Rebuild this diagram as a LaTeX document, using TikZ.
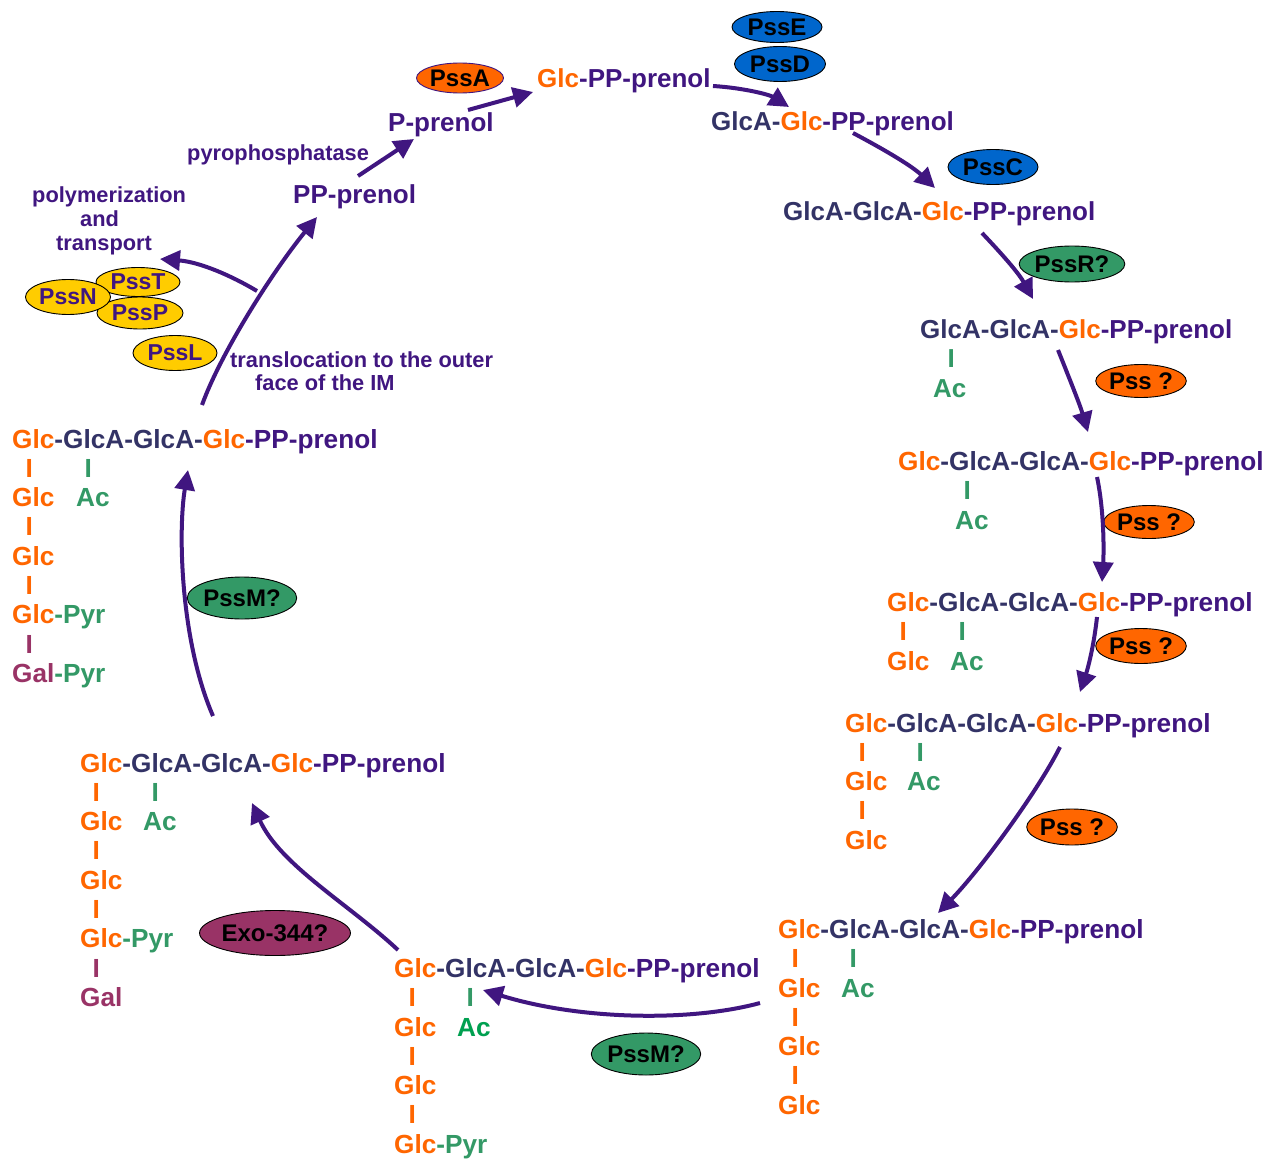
\documentclass[tikz,border=0pt]{standalone}
\usepackage{fontspec}
\setmainfont{Liberation Sans}
\usetikzlibrary{arrows.meta,shapes.geometric}
\definecolor{orng}{RGB}{255,102,0}
\definecolor{navy}{RGB}{51,51,102}
\definecolor{purp}{RGB}{64,22,128}
\definecolor{grn}{RGB}{51,153,102}
\definecolor{brgrn}{RGB}{0,160,80}
\definecolor{mag}{RGB}{153,51,102}
\definecolor{eblue}{RGB}{0,102,204}
\definecolor{eyel}{RGB}{255,204,0}
\newcommand\cOr[1]{\textcolor{orng}{#1}}
\newcommand\cNv[1]{\textcolor{navy}{#1}}
\newcommand\cGr[1]{\textcolor{grn}{#1}}
\newcommand\cMg[1]{\textcolor{mag}{#1}}
\tikzset{
  tA/.style={anchor=base west, inner sep=0pt, font=\fontsize{26}{30}\selectfont\bfseries, text=purp},
  tB/.style={anchor=base west, inner sep=0pt, font=\fontsize{26.2}{30}\selectfont\bfseries, text=purp},
  tC/.style={anchor=base west, inner sep=0pt, font=\fontsize{21.8}{24}\selectfont\bfseries, text=purp},
  ell/.style={ellipse, draw=black, line width=0.9pt, inner sep=0pt, font=\fontsize{24}{28}\selectfont\bfseries},
  yel/.style={ell, fill=eyel, text=purp, font=\fontsize{23}{27}\selectfont\bfseries},
  arr/.style={draw=purp, line width=4pt, -{Triangle[length=20pt,width=20pt]}}
}
\begin{document}
\begin{tikzpicture}[x=1pt,y=-1pt]
\useasboundingbox[fill=white] (0,0) rectangle (1276,1161);

% ---------- enzymes ----------
\node[ell, fill=orng, draw=purp, minimum width=87, minimum height=30] (pssa) at (460,78) {PssA};
\node[ell, fill=eblue, minimum width=90, minimum height=31] (psse) at (777,27) {PssE};
\node[ell, fill=eblue, minimum width=91, minimum height=35] (pssd) at (780,64) {PssD};
\node[ell, fill=eblue, minimum width=90, minimum height=35] (pssc) at (993,167) {PssC};
\node[ell, fill=grn, minimum width=95, minimum height=36] (pssr) at (1072,264) {PssR?};
\node[ell, fill=orng, minimum width=89, minimum height=33] (pss1) at (1141,381) {Pss ?};
\node[ell, fill=orng, minimum width=86, minimum height=33] (pss2) at (1149,522) {Pss ?};
\node[ell, fill=orng, minimum width=88, minimum height=35] (pss3) at (1141,646) {Pss ?};
\node[ell, fill=orng, minimum width=89, minimum height=36] (pss4) at (1072,827) {Pss ?};
\node[ell, fill=grn, minimum width=103, minimum height=42] (pssm1) at (242,598) {PssM?};
\node[ell, fill=grn, minimum width=106, minimum height=42] (pssm2) at (646,1054) {PssM?};
\node[ell, fill=mag, minimum width=126, minimum height=45] (exo) at (275,933) {Exo-344?};
\node[yel, minimum width=84, minimum height=29] (psst) at (138,282) {PssT};
\node[yel, minimum width=86, minimum height=32] (pssp) at (140,313) {PssP};
\node[yel, minimum width=85, minimum height=35] (pssn) at (68,297) {PssN};
\node[yel, minimum width=84, minimum height=35] (pssl) at (175,353) {PssL};

% ---------- top intermediates ----------
\node[tA] (glcpp) at (537,88) {\cOr{Glc}-PP-prenol};
\node[tA] (pprenol) at (388,131.5) {P-prenol};
\node[tA] (s1) at (711,130.5) {\cNv{GlcA-}\cOr{Glc}-PP-prenol};
\node[tA] (ppprenol) at (293,204) {PP-prenol};
\node[tA] (s1b) at (783,220) {\cNv{GlcA-GlcA-}\cOr{Glc}-PP-prenol};

\node[tA] (s2) at (920,338) {\cNv{GlcA-GlcA-}\cOr{Glc}-PP-prenol};
\node[tA,text=grn] (s2b) at (947.5,367.5) {I};
\node[tA,text=grn] (s2ac) at (933,397.5) {Ac};

% ---------- S3 ----------
\node[tB] (s3) at (898,470) {\cOr{Glc}\cNv{-GlcA-GlcA-}\cOr{Glc}-PP-prenol};
\node[tB,text=grn] (s3b) at (963.4,499.5) {I};
\node[tB,text=grn] (s3ac) at (955,529) {Ac};

% ---------- S4 ----------
\node[tB] (s4) at (887,611) {\cOr{Glc}\cNv{-GlcA-GlcA-}\cOr{Glc}-PP-prenol};
\node[tB,text=orng] (s4b) at (899.4,640.5) {I};
\node[tB,text=grn] (s4c) at (958.4,640.5) {I};
\node[tB,text=orng] (s4g) at (887,670) {Glc};
\node[tB,text=grn] (s4ac) at (950,670) {Ac};

% ---------- S5 ----------
\node[tB] (s5) at (845,732) {\cOr{Glc}\cNv{-GlcA-GlcA-}\cOr{Glc}-PP-prenol};
\node[tB,text=orng] (s5b) at (858.4,761) {I};
\node[tB,text=grn] (s5c) at (916.4,761) {I};
\node[tB,text=orng] (s5g) at (845,790.5) {Glc};
\node[tB,text=grn] (s5ac) at (907,790.5) {Ac};
\node[tB,text=orng] (s5d) at (858.4,819.5) {I};
\node[tB,text=orng] (s5g2) at (845,849) {Glc};

% ---------- S6 ----------
\node[tB] (s6) at (778,938.5) {\cOr{Glc}\cNv{-GlcA-GlcA-}\cOr{Glc}-PP-prenol};
\node[tB,text=orng] (s6b) at (791.4,967.5) {I};
\node[tB,text=grn] (s6c) at (849.4,967.5) {I};
\node[tB,text=orng] (s6g) at (778,997) {Glc};
\node[tB,text=grn] (s6ac) at (841,997) {Ac};
\node[tB,text=orng] (s6d) at (791.4,1026) {I};
\node[tB,text=orng] (s6g2) at (778,1055.5) {Glc};
\node[tB,text=orng] (s6e) at (791.4,1084.5) {I};
\node[tB,text=orng] (s6g3) at (778,1114) {Glc};

% ---------- S7 ----------
\node[tB] (s7) at (394,977) {\cOr{Glc}\cNv{-GlcA-GlcA-}\cOr{Glc}-PP-prenol};
\node[tB,text=orng] (s7b) at (408.4,1006.5) {I};
\node[tB,text=grn] (s7c) at (466.4,1006.5) {I};
\node[tB,text=orng] (s7g) at (394,1036) {Glc};
\node[tB,text=brgrn] (s7ac) at (457,1036) {Ac};
\node[tB,text=orng] (s7d) at (408.4,1065) {I};
\node[tB,text=orng] (s7g2) at (394,1094.5) {Glc};
\node[tB,text=orng] (s7e) at (408.4,1123.5) {I};
\node[tB,text=orng] (s7g3) at (394,1153) {Glc\cGr{-Pyr}};

% ---------- S8 ----------
\node[tB] (s8) at (80,772) {\cOr{Glc}\cNv{-GlcA-GlcA-}\cOr{Glc}-PP-prenol};
\node[tB,text=orng] (s8b) at (92.4,801) {I};
\node[tB,text=grn] (s8c) at (151.4,801) {I};
\node[tB,text=orng] (s8g) at (80,830.5) {Glc};
\node[tB,text=grn] (s8ac) at (143,830.5) {Ac};
\node[tB,text=orng] (s8d) at (92.4,859.5) {I};
\node[tB,text=orng] (s8g2) at (80,889) {Glc};
\node[tB,text=orng] (s8e) at (92.4,918) {I};
\node[tB,text=orng] (s8g3) at (80,947.5) {Glc\cGr{-Pyr}};
\node[tB,text=mag] (s8f) at (92.4,977) {I};
\node[tB,text=mag] (s8gal) at (80,1006.5) {Gal};

% ---------- S9 ----------
\node[tB] (s9) at (12,448) {\cOr{Glc}\cNv{-GlcA-GlcA-}\cOr{Glc}-PP-prenol};
\node[tB,text=orng] (s9b) at (25.4,477) {I};
\node[tB,text=grn] (s9c) at (84.4,477) {I};
\node[tB,text=orng] (s9g) at (12,506.5) {Glc};
\node[tB,text=grn] (s9ac) at (76,506.5) {Ac};
\node[tB,text=orng] (s9d) at (25.4,535.5) {I};
\node[tB,text=orng] (s9g2) at (12,565) {Glc};
\node[tB,text=orng] (s9e) at (25.4,594) {I};
\node[tB,text=orng] (s9g3) at (12,623.5) {Glc\cGr{-Pyr}};
\node[tB,text=mag] (s9f) at (25.4,653) {I};
\node[tB,text=mag] (s9gal) at (12,682.5) {Gal\cGr{-Pyr}};

% ---------- annotations ----------
\node[tC] (pyro) at (187,161) {pyrophosphatase};
\node[tC] (poly) at (32,203) {polymerization};
\node[tC] (and) at (80,226.5) {and};
\node[tC] (trans) at (56,250.5) {transport};
\node[tC] (transl) at (230,367) {translocation to the outer};
\node[tC] (face) at (255,390.5) {face of the IM};

% ---------- connector end points ----------
\coordinate (a1s) at (468,110);   \coordinate (a1e) at (533,92);
\coordinate (a2s) at (713,86);    \coordinate (a2e) at (789,107);
\coordinate (a3s) at (853,133);   \coordinate (a3e) at (935,188);
\coordinate (a4s) at (982,233);   \coordinate (a4e) at (1033,299);
\coordinate (a5s) at (1058,350);  \coordinate (a5e) at (1088,432);
\coordinate (a6s) at (1097,477);  \coordinate (a6e) at (1102,582);
\coordinate (a7s) at (1097,617);  \coordinate (a7e) at (1080,692);
\coordinate (a8s) at (1060,747);  \coordinate (a8e) at (938,913);
\coordinate (a9s) at (760,1003);  \coordinate (a9e) at (483,990);
\coordinate (a10s) at (398,950);  \coordinate (a10e) at (252,803);
\coordinate (a11s) at (213,716);  \coordinate (a11e) at (188,470);
\coordinate (a12s) at (202,405);  \coordinate (a12e) at (317,217);
\coordinate (br) at (257,291);    \coordinate (a13e) at (160,259);
\coordinate (a14s) at (358,176);  \coordinate (a14e) at (414,139);

% ---------- connectors ----------
\draw[arr] (a1s) -- (a1e);
\draw[arr] (a2s) .. controls (745,88) and (770,95) .. (a2e);
\draw[arr] (a3s) .. controls (885,150) and (912,166) .. (a3e);
\draw[arr] (a4s) .. controls (1000,252) and (1018,272) .. (a4e);
\draw[arr] (a5s) .. controls (1070,380) and (1080,405) .. (a5e);
\draw[arr] (a6s) .. controls (1104,510) and (1104,550) .. (a6e);
\draw[arr] (a7s) .. controls (1094,645) and (1088,668) .. (a7e);
\draw[arr] (a8s) .. controls (1038,791) and (980,870) .. (a8e);
\draw[arr] (a9s) .. controls (690,1022) and (580,1020) .. (a9e);
\draw[arr] (a10s) .. controls (350,905) and (280,865) .. (a10e);
\draw[arr] (a11s) .. controls (180,640) and (178,530) .. (a11e);
\draw[arr] (a12s) .. controls (220,355) and (270,275) .. (a12e);
\draw[arr] (br) .. controls (232,276) and (200,262) .. (a13e);
\draw[arr] (a14s) -- (a14e);
\end{tikzpicture}
\end{document}
